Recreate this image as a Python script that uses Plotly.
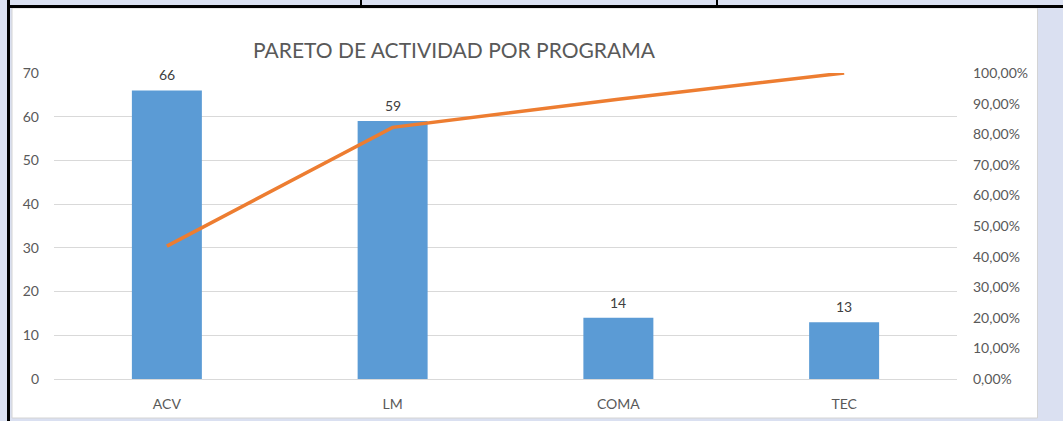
import plotly.graph_objects as go

categories = ["ACV", "LM", "COMA", "TEC"]
counts = [66, 59, 14, 13]
cumulative_pct = [0.4342, 0.8224, 0.9145, 1.0]
left_ticks = [0, 10, 20, 30, 40, 50, 60, 70]
right_tickvals = [0, 0.1, 0.2, 0.3, 0.4, 0.5, 0.6, 0.7, 0.8, 0.9, 1.0]
right_ticktext = ["0,00%", "10,00%", "20,00%", "30,00%", "40,00%", "50,00%",
                  "60,00%", "70,00%", "80,00%", "90,00%", "100,00%"]
title_text = "PARETO DE ACTIVIDAD POR PROGRAMA"

W, H = 1063, 421
L, R, T, B = 54, 957, 73, 379
PW, PH = R - L, B - T

def px(x):
    return (x - L) / PW

def py(y):
    return (B - y) / PH

LAV = "#dae0f1"
TXT = "#595959"
FONT = "Lato, Carlito, Calibri, sans-serif"

fig = go.Figure()
fig.add_trace(go.Bar(
    x=categories, y=counts, marker=dict(color="#5b9bd5", line=dict(width=0)),
    yaxis="y", showlegend=False, hoverinfo="x+y",
))
fig.add_trace(go.Scatter(
    x=categories, y=cumulative_pct, mode="lines", yaxis="y2",
    line=dict(color="#ed7d31", width=3.5), showlegend=False, cliponaxis=False,
))

for c, v in zip(categories, counts):
    fig.add_annotation(x=c, y=v, xref="x", yref="y", text=str(v), showarrow=False,
                       yanchor="bottom", yshift=5, font=dict(size=14, color="#404040", family=FONT))

shapes = [
    dict(type="rect", xref="paper", yref="paper", x0=px(12), x1=px(1037.5), y0=py(8), y1=py(418),
         fillcolor="white", line=dict(color="#d4d4d4", width=1), layer="below"),
    dict(type="rect", xref="paper", yref="paper", x0=px(7), x1=px(10), y0=py(0), y1=py(421),
         fillcolor="black", line=dict(width=0), layer="above"),
    dict(type="rect", xref="paper", yref="paper", x0=px(7), x1=px(1063), y0=py(5), y1=py(8),
         fillcolor="black", line=dict(width=0), layer="above"),
    dict(type="rect", xref="paper", yref="paper", x0=px(360), x1=px(362), y0=py(0), y1=py(6),
         fillcolor="black", line=dict(width=0), layer="above"),
    dict(type="rect", xref="paper", yref="paper", x0=px(716), x1=px(718), y0=py(0), y1=py(6),
         fillcolor="black", line=dict(width=0), layer="above"),
]

fig.update_layout(
    width=W, height=H,
    margin=dict(l=L, r=W - R, t=T, b=H - B, pad=0, autoexpand=False),
    paper_bgcolor=LAV, plot_bgcolor="rgba(0,0,0,0)",
    font=dict(family=FONT, color=TXT, size=14),
    bargap=0.69,
    shapes=shapes,
    title=dict(text=title_text, x=px(454), xref="paper", xanchor="center",
               y=1 - 51 / H, yref="container", yanchor="middle", automargin=False,
               font=dict(size=21, color=TXT, family=FONT)),
    xaxis=dict(showgrid=False, showline=True, linecolor="#d9d9d9", linewidth=1, automargin=False,
               ticks="", ticklabelstandoff=12, tickfont=dict(size=14, color=TXT)),
    yaxis=dict(range=[0, 70], tickvals=left_ticks, showgrid=True, gridcolor="#d9d9d9",
               gridwidth=1, zeroline=False, showline=False, ticks="", automargin=False,
               ticklabelstandoff=14, tickfont=dict(size=14, color=TXT)),
    yaxis2=dict(range=[0, 1], overlaying="y", side="right", tickvals=right_tickvals,
                ticktext=right_ticktext, showgrid=False, zeroline=False, showline=False,
                automargin=False, ticks="", ticklabelstandoff=15, tickfont=dict(size=14, color=TXT)),
)

fig.write_html(
    "out.html",
    config={"displayModeBar": False},
    post_script="document.body.style.margin='0';document.body.style.overflow='hidden';"
                "document.body.style.background='" + LAV + "';",
)
